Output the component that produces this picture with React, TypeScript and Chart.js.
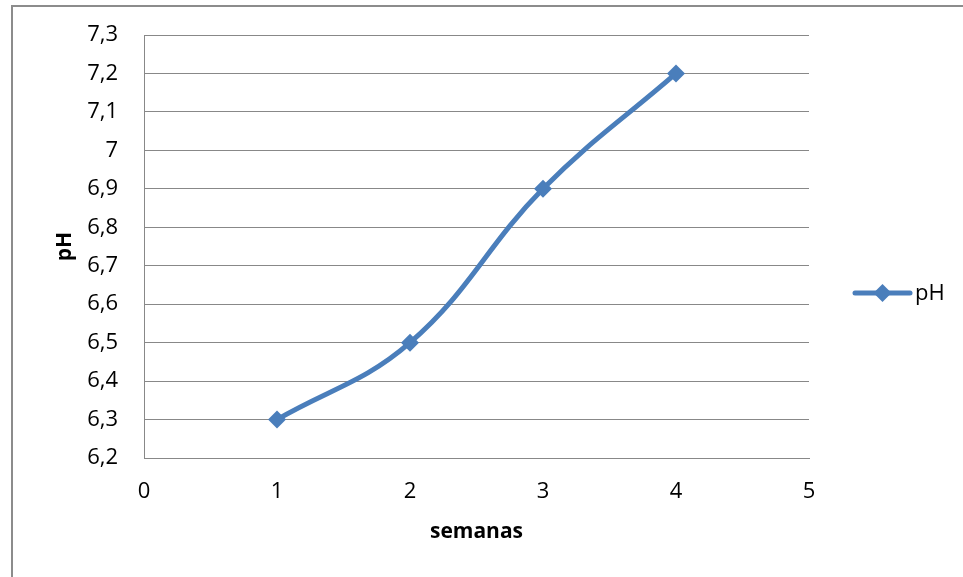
import React, { useEffect, useRef } from "react";
import { Chart, registerables } from "chart.js";

Chart.register(...registerables);

// Weekly pH readings
const weeks: number[] = [1, 2, 3, 4];
const phValues: number[] = [6.3, 6.5, 6.9, 7.2];
const seriesLabel = "pH";
const xAxisTitle = "semanas";
const yAxisTitle = "pH";

const LINE_BLUE = "#4a7ebb";
const GRID_GRAY = "#888888";
const FONT = "'Open Sans', 'DejaVu Sans', sans-serif";

const fmtComma = (v: number | string) =>
  String(Number(Number(v).toFixed(1))).replace(".", ",");

// Legend entry drawn to the right of the plot area
const sideLegend = {
  id: "sideLegend",
  afterDraw(chart: any) {
    const ctx = chart.ctx as CanvasRenderingContext2D;
    const ds = chart.data.datasets[0];
    const area = chart.chartArea;
    const y = 293;
    const x0 = area.right + 46;
    const x1 = x0 + 55;
    ctx.save();
    ctx.strokeStyle = ds.borderColor;
    ctx.lineWidth = ds.borderWidth;
    ctx.lineCap = "round";
    ctx.beginPath();
    ctx.moveTo(x0, y);
    ctx.lineTo(x1, y);
    ctx.stroke();
    const cx = (x0 + x1) / 2;
    const r = ds.pointRadius;
    ctx.fillStyle = ds.pointBackgroundColor;
    ctx.beginPath();
    ctx.moveTo(cx, y - r);
    ctx.lineTo(cx + r, y);
    ctx.lineTo(cx, y + r);
    ctx.lineTo(cx - r, y);
    ctx.closePath();
    ctx.fill();
    ctx.fillStyle = "#000";
    ctx.font = `22px ${FONT}`;
    ctx.textBaseline = "middle";
    ctx.textAlign = "left";
    ctx.fillText(ds.label, x1 + 5, y + 1);
    ctx.restore();
  },
};

export default function App() {
  const canvasRef = useRef<HTMLCanvasElement | null>(null);

  useEffect(() => {
    if (!canvasRef.current) return;
    const chart = new Chart(canvasRef.current, {
      type: "line",
      data: {
        datasets: [
          {
            label: seriesLabel,
            data: weeks.map((w, i) => ({ x: w, y: phValues[i] })),
            borderColor: LINE_BLUE,
            backgroundColor: LINE_BLUE,
            pointBackgroundColor: LINE_BLUE,
            pointBorderColor: LINE_BLUE,
            borderWidth: 5,
            pointStyle: "rectRot",
            pointRadius: 9,
            pointBorderWidth: 0,
            tension: 0.4,
            fill: false,
          },
        ],
      },
      options: {
        animation: false,
        responsive: false,
        maintainAspectRatio: false,
        layout: { padding: { top: 35, right: 154, left: 0, bottom: 0 } },
        plugins: {
          legend: { display: false },
          tooltip: { enabled: false },
        },
        scales: {
          x: {
            type: "linear",
            min: 0,
            max: 5,
            ticks: {
              stepSize: 1,
              padding: 21,
              color: "#000",
              font: { family: FONT, size: 22 },
            },
            grid: { display: false, drawTicks: false },
            border: { display: true, color: GRID_GRAY, width: 1 },
            title: {
              display: true,
              text: xAxisTitle,
              color: "#000",
              font: { family: FONT, size: 21, weight: "bold" },
              padding: { top: 0, bottom: 32 },
            },
            afterFit: (scale: any) => {
              scale.height = 119;
              scale.paddingLeft = 0;
              scale.paddingRight = 0;
            },
          },
          y: {
            min: 6.2,
            max: 7.3,
            ticks: {
              stepSize: 0.1,
              padding: 26,
              color: "#000",
              font: { family: FONT, size: 22 },
              callback: (v: any) => fmtComma(v),
            },
            grid: { color: GRID_GRAY, lineWidth: 1, drawTicks: false },
            border: { display: true, color: GRID_GRAY, width: 1 },
            title: {
              display: true,
              text: yAxisTitle,
              color: "#000",
              font: { family: FONT, size: 21, weight: "bold" },
              padding: { top: 52, bottom: 0 },
            },
            afterFit: (scale: any) => {
              scale.width = 144;
              scale.paddingTop = 0;
              scale.paddingBottom = 0;
            },
          },
        },
      },
      plugins: [sideLegend],
    });
    return () => chart.destroy();
  }, []);

  return (
    <div
      style={{
        position: "fixed",
        left: 0,
        top: 0,
        width: 963,
        height: 577,
        overflow: "hidden",
        background: "#fff",
      }}
    >
      <div
        style={{
          position: "absolute",
          left: 11,
          top: 5,
          width: 2000,
          height: 2000,
          border: "2px solid #8c8c8c",
        }}
      />
      <canvas
        ref={canvasRef}
        width={963}
        height={577}
        style={{ position: "absolute", left: 0, top: 0 }}
      />
    </div>
  );
}
